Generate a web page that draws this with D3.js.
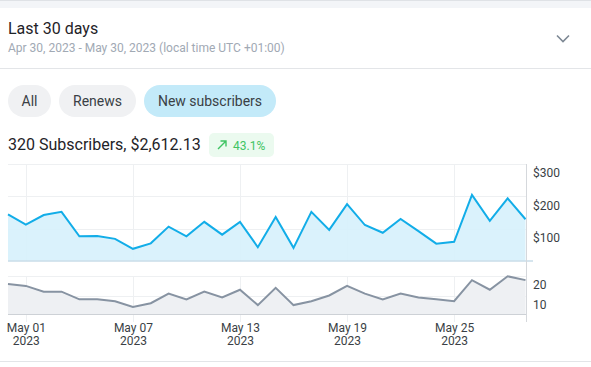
<!DOCTYPE html>
<html>
<head>
<meta charset="utf-8">
<script src="https://cdn.jsdelivr.net/npm/d3@7"></script>
<style>
  body { margin: 0; background: #fff; }
  svg { display: block; font-family: Roboto, "Noto Sans", sans-serif; }
</style>
</head>
<body>
<div id="chart-area"></div>
<script>
// data
const startDay = new Date(2023, 3, 30)
const endDay = new Date(2023, 4, 30)
const revenue = [144, 112, 142, 152, 76, 77, 68, 37, 54, 106, 76, 121, 81, 121, 42,
                 136, 40, 152, 96, 176, 111, 87, 130, 92, 53, 59, 205, 124, 194, 129]
const subscribers = [16, 15, 12, 12, 8, 8, 7, 4, 6, 11, 8, 12, 9, 13, 5,
                     14, 5, 7, 10, 15, 11, 8, 11, 9, 8, 7, 18, 13, 20, 18]
const revenueTicks = [100, 200, 300]
const subscriberTicks = [10, 20]
const dateTicks = [new Date(2023, 4, 1), new Date(2023, 4, 7), new Date(2023, 4, 13),
                   new Date(2023, 4, 19), new Date(2023, 4, 25)]
const filters = ['All', 'Renews', 'New subscribers']
const activeFilter = 'New subscribers'

const days = d3.timeDay.range(startDay, endDay)
const data = days.map((d, i) => ({ date: d, revenue: revenue[i], subs: subscribers[i] }))

const W = 591, H = 367
const svg = d3.select('#chart-area')
              .append('svg')
              .attr('width', W)
              .attr('height', H)

// header
svg.append('rect').attr('x', 0).attr('y', 0).attr('width', W).attr('height', 8).attr('fill', '#f3f5f8')
svg.append('line').attr('x1', 0).attr('x2', W).attr('y1', 0.5).attr('y2', 0.5).attr('stroke', '#dfe2e6')

svg.append('text')
   .attr('x', 8).attr('y', 34)
   .attr('font-size', '16px').attr('fill', '#1f2328')
   .text('Last 30 days')

svg.append('text')
   .attr('x', 8).attr('y', 52)
   .attr('font-size', '12px').attr('fill', '#a1a9b4')
   .text('Apr 30, 2023 - May 30, 2023 (local time UTC +01:00)')

svg.append('path')
   .attr('d', 'M557,35.5 L563,41.5 L569,35.5')
   .attr('fill', 'none').attr('stroke', '#7d8894').attr('stroke-width', 1.6)

svg.append('line').attr('x1', 0).attr('x2', W).attr('y1', 68.5).attr('y2', 68.5).attr('stroke', '#e3e5e8')

// filter pills
const pillX = [8, 59, 144]
const pillW = [43, 77, 132]
const pills = svg.selectAll('.pill')
                 .data(filters)
                 .enter().append('g')
                 .attr('class', 'pill')
                 .attr('transform', (d, i) => 'translate(' + pillX[i] + ',85)')
pills.append('rect')
     .attr('width', (d, i) => pillW[i]).attr('height', 32).attr('rx', 16)
     .attr('fill', d => d === activeFilter ? '#c3eaf9' : '#f0f1f3')
pills.append('text')
     .attr('x', (d, i) => pillW[i] / 2).attr('y', 21)
     .attr('text-anchor', 'middle')
     .attr('font-size', '14px').attr('fill', '#3a3f45')
     .text(d => d)

// summary
svg.append('text')
   .attr('x', 8).attr('y', 150)
   .attr('font-size', '16px').attr('fill', '#1f2328')
   .text('320 Subscribers, $2,612.13')

svg.append('rect')
   .attr('x', 209).attr('y', 133).attr('width', 65).attr('height', 24).attr('rx', 5)
   .attr('fill', '#ebfaef')
svg.append('path')
   .attr('d', 'M218,149 L226,141 M220.5,141 L226,141 L226,146.5')
   .attr('fill', 'none').attr('stroke', '#3fc463').attr('stroke-width', 1.4)
svg.append('text')
   .attr('x', 233).attr('y', 149.5)
   .attr('font-size', '12px').attr('fill', '#3fc463')
   .text('43.1%')

// scales
const x = d3.scaleTime().domain([startDay, days[days.length - 1]]).range([8, 525.5])
const yTop = d3.scaleLinear().domain([0, 300]).range([260.7, 164.3])
const yBot = d3.scaleLinear().domain([0, 20]).range([314.7, 276.3])
const axisX = 526

const grid = '#eef0f2'

// upper pane gridlines
svg.append('g')
   .selectAll('line').data(revenueTicks).enter().append('line')
   .attr('x1', 8).attr('x2', axisX)
   .attr('y1', d => Math.round(yTop(d)) + 0.5).attr('y2', d => Math.round(yTop(d)) + 0.5)
   .attr('stroke', grid)
svg.append('g')
   .selectAll('line').data(dateTicks).enter().append('line')
   .attr('x1', d => Math.round(x(d)) + 0.5).attr('x2', d => Math.round(x(d)) + 0.5)
   .attr('y1', yTop(300)).attr('y2', yTop(0))
   .attr('stroke', grid)

// lower pane gridlines
svg.append('g')
   .selectAll('line').data(subscriberTicks).enter().append('line')
   .attr('x1', 8).attr('x2', axisX)
   .attr('y1', d => Math.round(yBot(d)) + 0.5).attr('y2', d => Math.round(yBot(d)) + 0.5)
   .attr('stroke', grid)
svg.append('g')
   .selectAll('line').data(dateTicks).enter().append('line')
   .attr('x1', d => Math.round(x(d)) + 0.5).attr('x2', d => Math.round(x(d)) + 0.5)
   .attr('y1', yBot(20)).attr('y2', 322)
   .attr('stroke', grid)

// revenue area + line
const areaTop = d3.area().x(d => x(d.date)).y0(yTop(0)).y1(d => yTop(d.revenue))
const lineTop = d3.line().x(d => x(d.date)).y(d => yTop(d.revenue))
svg.append('path').datum(data).attr('d', areaTop).attr('fill', '#d6f1fc').attr('fill-opacity', 0.9)
svg.append('path').datum(data).attr('d', lineTop)
   .attr('fill', 'none').attr('stroke', '#12ade8').attr('stroke-width', 2).attr('stroke-linejoin', 'miter')

// subscribers area + line
const areaBot = d3.area().x(d => x(d.date)).y0(yBot(0)).y1(d => yBot(d.subs))
const lineBot = d3.line().x(d => x(d.date)).y(d => yBot(d.subs))
svg.append('path').datum(data).attr('d', areaBot).attr('fill', '#eef0f3')
svg.append('path').datum(data).attr('d', lineBot)
   .attr('fill', 'none').attr('stroke', '#8793a2').attr('stroke-width', 2)

// pane borders
svg.append('line').attr('x1', 8).attr('x2', 533).attr('y1', 261).attr('y2', 261)
   .attr('stroke', '#c8dde8').attr('stroke-width', 1.5)
svg.append('line').attr('x1', 8).attr('x2', axisX).attr('y1', 314.5).attr('y2', 314.5)
   .attr('stroke', '#cdd1d6')
svg.append('line').attr('x1', axisX + 0.5).attr('x2', axisX + 0.5).attr('y1', 164).attr('y2', 322)
   .attr('stroke', '#d5d8dc')

// right axes
const yAxisTop = d3.axisRight(yTop).tickValues(revenueTicks).tickSize(0).tickPadding(7)
                   .tickFormat(d => '$' + d)
const gTop = svg.append('g').attr('transform', 'translate(' + axisX + ',0)').call(yAxisTop)
const yAxisBot = d3.axisRight(yBot).tickValues(subscriberTicks).tickSize(0).tickPadding(7)
const gBot = svg.append('g').attr('transform', 'translate(' + axisX + ',0)').call(yAxisBot)
;[gTop, gBot].forEach(g => {
    g.select('.domain').remove()
    g.selectAll('text')
     .attr('dy', '1.05em')
     .attr('font-family', 'Roboto, sans-serif')
     .attr('font-size', '12px').attr('fill', '#3a3f45')
})

// time axis
const xAxis = d3.axisBottom(x).tickValues(dateTicks).tickSize(0).tickPadding(0).tickFormat('')
const gx = svg.append('g').attr('transform', 'translate(0,320)').call(xAxis)
gx.select('.domain').remove()
const lbl = gx.selectAll('.tick').append('text')
              .attr('text-anchor', 'middle')
              .attr('font-family', 'Roboto, sans-serif')
              .attr('font-size', '12px').attr('fill', '#3a3f45')
lbl.append('tspan').attr('x', 0).attr('y', 12).text(d3.timeFormat('%b %d'))
lbl.append('tspan').attr('x', 0).attr('y', 25).text(d3.timeFormat('%Y'))

svg.append('line').attr('x1', 0).attr('x2', W).attr('y1', 361.5).attr('y2', 361.5).attr('stroke', '#e3e5e8')
</script>
</body>
</html>
